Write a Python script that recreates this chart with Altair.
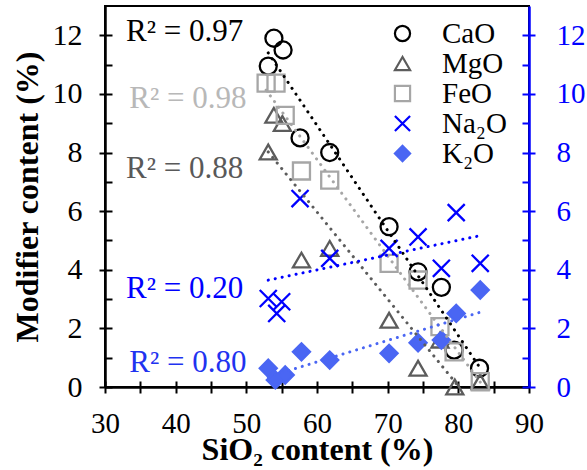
import altair as alt
import pandas as pd

FONT = "Liberation Serif"

series_names = ["CaO", "MgO", "FeO", "Na₂O", "K₂O"]

cao_x = [53.1, 53.9, 55.2, 57.6, 61.8, 70.2, 74.3, 77.6, 79.4, 83.0]
cao_y = [10.95, 11.9, 11.5, 8.5, 8.0, 5.47, 3.93, 3.4, 1.26, 0.64]

mgo_x = [53.1, 53.9, 55.1, 57.8, 61.8, 70.2, 74.3, 77.4, 79.5, 83.1]
mgo_y = [8.02, 9.27, 8.99, 4.33, 4.73, 2.28, 0.64, 1.6, 0.0, 0.18]

feo_x = [52.8, 54.2, 55.5, 57.8, 61.8, 70.2, 74.3, 77.4, 79.4, 83.1]
feo_y = [10.37, 10.37, 9.27, 7.37, 7.06, 4.22, 3.65, 2.06, 1.2, 0.18]

na2o_x = [53.1, 54.3, 55.0, 57.6, 61.8, 70.2, 74.3, 77.6, 79.7, 83.1]
na2o_y = [3.02, 2.51, 2.91, 6.43, 4.39, 4.73, 5.12, 4.05, 5.95, 4.22]

k2o_x = [53.1, 54.1, 55.5, 57.8, 61.8, 70.2, 74.3, 77.6, 79.7, 83.1]
k2o_y = [0.64, 0.24, 0.41, 1.2, 0.92, 1.15, 1.51, 1.6, 2.51, 3.31]

series_colors = ["#000000", "#5c5c5c", "#a6a6a6", "#0000ff", "#4a66f3"]
series_fills = ["transparent", "transparent", "transparent", "transparent", "#4a66f3"]
series_shapes = ["circle", "triangle-up", "square", "M-1,-1L1,1M-1,1L1,-1", "diamond"]

r2_text = ["R² = 0.97", "R² = 0.98", "R² = 0.88", "R² = 0.20", "R² = 0.80"]
r2_x = [32.97, 33.44, 32.97, 32.97, 33.44]
r2_y = [11.82, 9.51, 7.12, 3.03, 0.52]
r2_color = ["#000000", "#b8b8b8", "#595959", "#0000ff", "#1f33f0"]

x_ticks = list(range(30, 91, 5))
y_major = list(range(0, 13, 2))
y_all = list(range(0, 13, 1))

rows = []
for name, xs, ys in zip(series_names, [cao_x, mgo_x, feo_x, na2o_x, k2o_x],
                        [cao_y, mgo_y, feo_y, na2o_y, k2o_y]):
    for xv, yv in zip(xs, ys):
        rows.append({"series": name, "x": xv, "y": yv})
df = pd.DataFrame(rows)

txt = pd.DataFrame({"label": r2_text, "x": r2_x, "y": r2_y, "c": r2_color})
txt_dark = txt.iloc[:3]
txt_blue = txt.iloc[3:]

xscale = alt.Scale(domain=[30, 90], nice=False, zero=False)
yscale = alt.Scale(domain=[0, 13], nice=False, zero=False)

x_main = alt.Axis(orient="bottom", values=x_ticks,
                  labelExpr="datum.value % 10 === 0 ? datum.label : ''",
                  tickSize=6, tickWidth=2, tickColor="black",
                  domainColor="black", domainWidth=2.5,
                  labelFont=FONT, labelFontSize=29, labelColor="black",
                  labelPadding=16, labelFlush=False, labelOverlap=False,
                  title="SiO₂ content (%)", titleFont=FONT, titleFontSize=32,
                  titleFontWeight="bold", titleColor="black", titlePadding=-4,
                  grid=False)
x_in = alt.Axis(orient="bottom", values=x_ticks, tickSize=6, tickWidth=2,
                tickColor="black", offset=-6, labels=False, domain=False,
                title=None, grid=False)

y_left = alt.Axis(orient="left", values=y_major, tickSize=6, tickWidth=2,
                  tickColor="black", domainColor="black", domainWidth=2.5,
                  labelFont=FONT, labelFontSize=30, labelColor="black",
                  labelPadding=17, labelFlush=False, labelOverlap=False,
                  title="Modifier content (%)", titleFont=FONT, titleFontSize=32,
                  titleFontWeight="bold", titleColor="black", titlePadding=8,
                  grid=False)
y_left_in = alt.Axis(orient="left", values=y_all, tickSize=7, tickWidth=2,
                     tickColor="black", offset=-7, labels=False, domain=False,
                     title=None, grid=False)

y_right = alt.Axis(orient="right", values=y_major, tickSize=6, tickWidth=2,
                   tickColor="#0000ff", domainColor="#0000ff", domainWidth=2.5,
                   labelFont=FONT, labelFontSize=29, labelColor="#0000ff",
                   labelPadding=21, labelFlush=False, labelOverlap=False,
                   title=None, grid=False)
y_right_in = alt.Axis(orient="right", values=y_all, tickSize=7, tickWidth=2,
                      tickColor="#0000ff", offset=-7, labels=False, domain=False,
                      title=None, grid=False)

legend = alt.Legend(title=None, orient="none", legendX=283, legendY=13,
                    labelFont=FONT, labelFontSize=29, labelColor="black",
                    symbolSize=230, symbolStrokeWidth=2.2, rowPadding=0,
                    labelOffset=25, padding=0, labelLimit=300)

points = alt.Chart(df).mark_point(size=290, strokeWidth=2.3, opacity=1).encode(
    x=alt.X("x:Q", scale=xscale, axis=x_main),
    y=alt.Y("y:Q", scale=yscale, axis=y_left),
    shape=alt.Shape("series:N", sort=series_names,
                    scale=alt.Scale(domain=series_names, range=series_shapes), legend=legend),
    stroke=alt.Stroke("series:N", sort=series_names,
                      scale=alt.Scale(domain=series_names, range=series_colors), legend=legend),
    fill=alt.Fill("series:N", sort=series_names,
                  scale=alt.Scale(domain=series_names, range=series_fills), legend=legend),
)

lines = alt.Chart(df).transform_regression(
    "x", "y", groupby=["series"]
).mark_line(clip=True, strokeDash=[0.1, 7], strokeCap="round", strokeWidth=3).encode(
    x=alt.X("x:Q", scale=xscale, axis=x_in),
    y=alt.Y("y:Q", scale=yscale, axis=y_left_in),
    stroke=alt.Stroke("series:N", sort=series_names,
                      scale=alt.Scale(domain=series_names, range=series_colors), legend=None),
)

text_dark = alt.Chart(txt_dark).mark_text(
    font=FONT, fontSize=31, align="left", baseline="alphabetic"
).encode(
    x=alt.X("x:Q", scale=xscale, axis=None),
    y=alt.Y("y:Q", scale=yscale, axis=y_right),
    text="label:N",
    color=alt.Color("c:N", scale=None),
)

text_blue = alt.Chart(txt_blue).mark_text(
    font=FONT, fontSize=31, align="left", baseline="alphabetic"
).encode(
    x=alt.X("x:Q", scale=xscale, axis=None),
    y=alt.Y("y:Q", scale=yscale, axis=y_right_in),
    text="label:N",
    color=alt.Color("c:N", scale=None),
)

chart = alt.layer(points, lines, text_dark, text_blue).resolve_axis(
    x="independent", y="independent"
).properties(
    width=424, height=381,
    autosize=alt.AutoSizeParams(type="none"),
    padding={"left": 105, "top": 6, "right": 58, "bottom": 83},
    background="white",
).configure_view(stroke="black", strokeWidth=2)

chart.save("out.html", embed_options={"renderer": "svg", "actions": False})
